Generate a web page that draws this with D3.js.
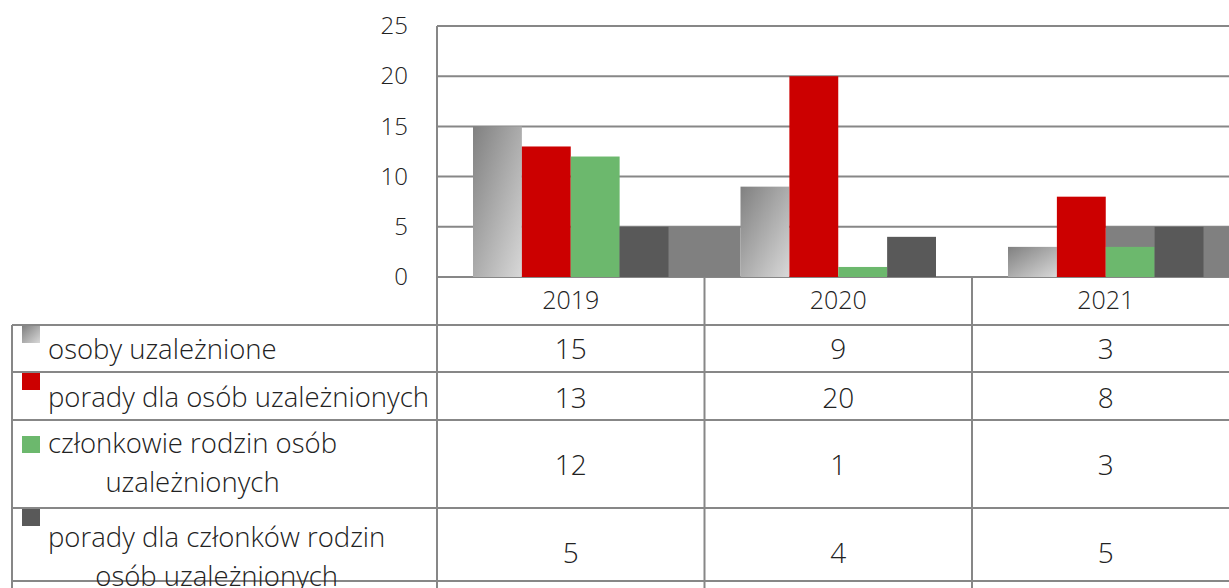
<!DOCTYPE html>
<html>
<head>
<meta charset="utf-8">
<script src="https://cdn.jsdelivr.net/npm/d3@7"></script>
<style>
  body { margin: 0; background: #fff; }
  svg { display: block; }
  text { font-family: "Open Sans", sans-serif; font-weight: 300; fill: #222; }
</style>
</head>
<body>
<svg id="chart" width="1229" height="588"></svg>
<script>
// dane z tabeli
let years = ["2019", "2020", "2021"];
let seriesLabels = [
  ["osoby uzależnione"],
  ["porady dla osób uzależnionych"],
  ["członkowie rodzin osób", "uzależnionych"],
  ["porady dla członków rodzin", "osób uzależnionych"]
];
let osoby = [15, 9, 3];
let poradyOsoby = [13, 20, 8];
let czlonkowie = [12, 1, 3];
let poradyCzlonkowie = [5, 4, 5];
// piąta seria (wiersz ucięty na dole), widoczna tylko jako szare tło
let piataSeria = [5, 0, 5];
let yTicks = [0, 5, 10, 15, 20, 25];

let series = [osoby, poradyOsoby, czlonkowie, poradyCzlonkowie];
let colors = ["url(#gradGray)", "#cc0000", "#6cb86d", "#595959"];

let W = 1229, H = 588;
let plotLeft = 437, plotTop = 26, plotBottom = 277;
let catW = 267.5, gap = 36;
let gridColor = "#878787";

let svg = d3.select("#chart");

let defs = svg.append("defs");
let grad = defs.append("linearGradient")
  .attr("id", "gradGray")
  .attr("x1", 0).attr("y1", 0).attr("x2", 1).attr("y2", 1);
grad.append("stop").attr("offset", "0%").attr("stop-color", "#808080");
grad.append("stop").attr("offset", "100%").attr("stop-color", "#d8d8d8");

let y = d3.scaleLinear().domain([0, 25]).range([plotBottom, plotTop]);
let x0 = d3.scaleBand().domain(years).range([plotLeft, plotLeft + catW * years.length]);
let x1 = d3.scaleBand().domain(d3.range(series.length)).range([gap, catW - gap]);

// siatka
svg.append("g")
  .selectAll("line")
  .data(yTicks)
  .enter()
  .append("line")
  .attr("x1", plotLeft).attr("x2", W)
  .attr("y1", d => y(d)).attr("y2", d => y(d))
  .attr("stroke", gridColor).attr("stroke-width", 2);

// piąta seria - szeroki słupek za pozostałymi
svg.append("g")
  .selectAll("rect")
  .data(piataSeria)
  .enter()
  .append("rect")
  .attr("x", (d, i) => x0(years[i]) + x1(2))
  .attr("width", x0.step() + x1(0) - x1(2))
  .attr("y", d => y(d))
  .attr("height", d => y(0) - y(d))
  .attr("fill", "#808080");

// słupki
series.forEach((vals, s) => {
  svg.append("g")
    .selectAll("rect")
    .data(vals)
    .enter()
    .append("rect")
    .attr("x", (d, i) => x0(years[i]) + x1(s))
    .attr("width", x1.bandwidth())
    .attr("y", d => y(d))
    .attr("height", d => y(0) - y(d))
    .attr("fill", colors[s]);
});

// oś Y
let yAxis = svg.append("g")
  .attr("transform", `translate(${plotLeft},0)`)
  .call(d3.axisLeft(y).tickValues(yTicks).tickSize(0).tickPadding(29));
yAxis.select(".domain").remove();
yAxis.selectAll("text")
  .style("font-family", "'Open Sans', sans-serif")
  .style("font-weight", 300)
  .style("font-size", "24px")
  .attr("fill", "#222");

// tabela danych
let rowH = [47, 48, 88, 73, 20];
let rowTops = [];
let acc = 325;
rowH.forEach(h => { rowTops.push(acc); acc += h; });
let tableLeft = 12;

let lines = svg.append("g").attr("stroke", gridColor).attr("stroke-width", 2);
rowTops.forEach(t => {
  lines.append("line").attr("x1", tableLeft).attr("x2", W).attr("y1", t).attr("y2", t);
});
lines.append("line").attr("x1", tableLeft).attr("x2", tableLeft).attr("y1", 325).attr("y2", H);
lines.append("line").attr("x1", plotLeft).attr("x2", plotLeft).attr("y1", plotTop).attr("y2", H);
years.slice(1).forEach(yr => {
  lines.append("line").attr("x1", x0(yr)).attr("x2", x0(yr)).attr("y1", plotBottom).attr("y2", H);
});

// nagłówki lat
svg.append("g")
  .selectAll("text")
  .data(years)
  .enter()
  .append("text")
  .attr("x", d => x0(d) + catW / 2)
  .attr("y", 309)
  .attr("text-anchor", "middle")
  .style("font-size", "25px")
  .text(d => d);

let swatchDy = [1, 1, 16, 1];
let labelDy = [34, 35, 33, 39];
let valueBase = [359, 408, 475, 563];
let lineGap = 38.5;

seriesLabels.forEach((lab, s) => {
  let top = rowTops[s];

  svg.append("rect")
    .attr("x", 22).attr("y", top + swatchDy[s])
    .attr("width", 18).attr("height", 17)
    .attr("fill", colors[s]);

  let texts = svg.append("g")
    .selectAll("text")
    .data(lab)
    .enter()
    .append("text")
    .attr("y", (d, i) => top + labelDy[s] + i * lineGap)
    .style("font-size", "27.5px")
    .text(d => d);
  let widths = [];
  texts.each(function() { widths.push(this.getComputedTextLength()); });
  let maxW = d3.max(widths);
  texts.attr("x", (d, i) => 48 + (maxW - widths[i]) / 2);

  svg.append("g")
    .selectAll("text")
    .data(series[s])
    .enter()
    .append("text")
    .attr("x", (d, i) => x0(years[i]) + catW / 2)
    .attr("y", valueBase[s])
    .attr("text-anchor", "middle")
    .style("font-size", "28px")
    .text(d => d);
});
</script>
</body>
</html>
